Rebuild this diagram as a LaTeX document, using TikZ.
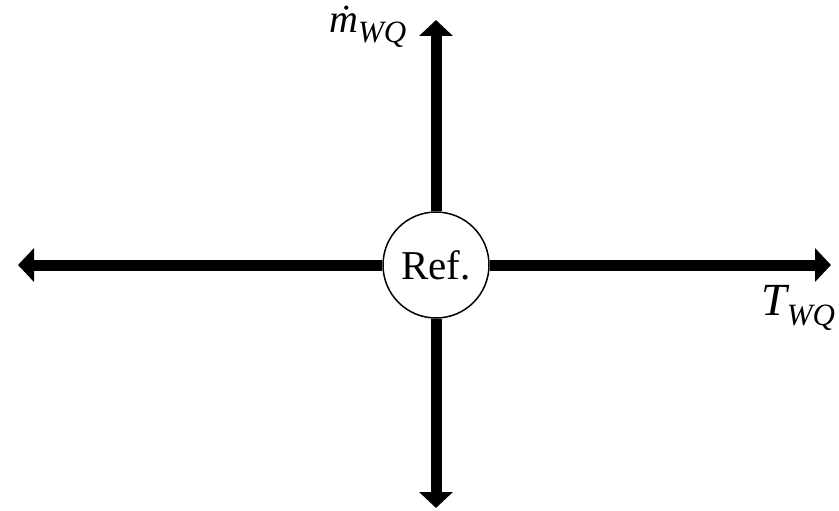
\documentclass[tikz,border=0pt]{standalone}
\usepackage{fontspec}
\setmainfont{Liberation Serif}
\usetikzlibrary{arrows.meta,positioning}

\newcommand{\subsc}[1]{\raisebox{-10pt}{\fontsize{31}{34}\selectfont #1}}

\begin{document}
\begin{tikzpicture}[x=1pt,y=-1pt,
    axis/.style={line width=11pt, -{Triangle[length=16pt,width=33pt]}},
    reflabel/.style={circle, draw, line width=1.5pt, fill=white, minimum size=106pt, inner sep=0pt, font=\fontsize{41}{46}\selectfont},
    axlabel/.style={font=\fontsize{46}{50}\selectfont\itshape, inner sep=0pt}]
    \useasboundingbox (0,0) rectangle (839,511);

    % end points of the axes
    \coordinate (left)  at (18,265);
    \coordinate (right) at (831,265);
    \coordinate (top)   at (436,20);
    \coordinate (bot)   at (436,508);

    % reference point
    \node[reflabel] (ref) at (436,265) {Ref.};

    \draw[axis] (ref.west)  -- (left);
    \draw[axis] (ref.east)  -- (right);
    \draw[axis] (ref.north) -- (top);
    \draw[axis] (ref.south) -- (bot);

    % axis labels
    \node[axlabel, font=\fontsize{40}{44}\selectfont\itshape, anchor=base west] (mlab) at (329,33) {\.{m}\subsc{WQ}};
    \node[axlabel, anchor=base west] (tlab) at (761,315) {T\subsc{WQ}};
\end{tikzpicture}
\end{document}
